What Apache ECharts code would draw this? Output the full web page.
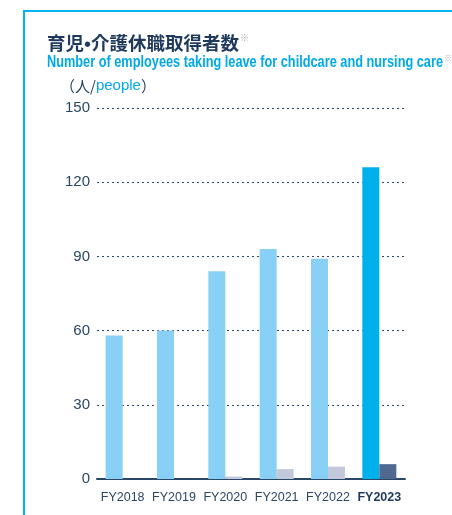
<!DOCTYPE html>
<html>
<head>
<meta charset="utf-8">
<script src="https://cdn.jsdelivr.net/npm/echarts@6/dist/echarts.min.js"></script>
<style>
  html, body { margin: 0; padding: 0; background: #fff; }
  #chart { width: 452px; height: 515px; }
</style>
</head>
<body>
<div id="chart"></div>
<script>
// data
const years = ['FY2018', 'FY2019', 'FY2020', 'FY2021', 'FY2022', 'FY2023'];
const childcare = [58, 60, 84, 93, 89, 126];
const nursing = [0, 0, 1, 4, 5, 6];
const yTicks = [0, 30, 60, 90, 120, 150];

const navy = '#2b4766';
const cyan = '#00a9e8';
const lastIdx = years.length - 1;

const title = '育児•介護休職取得者数';
const titleFont = 'bold 18.5px "Noto Sans CJK JP"';
const subtitle = 'Number of employees taking leave for childcare and nursing care';
const subFont = 'bold 16px "Liberation Sans"';
// the original uses a condensed face, so squeeze the subtitle to its width
const ctx = document.createElement('canvas').getContext('2d');
ctx.font = subFont;
const subScale = 396 / ctx.measureText(subtitle).width;
ctx.font = titleFont;
const titleW = ctx.measureText(title).width;

const chart = echarts.init(document.getElementById('chart'), null, { renderer: 'canvas' });

const option = {
  animation: false,
  textStyle: { fontFamily: 'Liberation Sans' },
  graphic: [
    // frame (left + top line)
    { type: 'rect', left: 23, top: 10, shape: { width: 2, height: 505 }, style: { fill: '#00b4f0' } },
    { type: 'rect', left: 23, top: 10, shape: { width: 429, height: 2 }, style: { fill: '#00b4f0' } },
    {
      type: 'text', x: 47, y: 43,
      style: { text: title, font: titleFont, fill: '#1f3a5c', verticalAlign: 'middle' }
    },
    { type: 'text', x: 47 + titleW + 1, y: 38, style: { text: '※', font: '9px "Noto Sans CJK JP"', fill: '#a3abb8', verticalAlign: 'middle' } },
    {
      type: 'text', x: 47, y: 63, scaleX: subScale,
      style: { text: subtitle, font: subFont, fill: cyan, verticalAlign: 'middle' }
    },
    { type: 'text', x: 444, y: 58, style: { text: '※', font: '8px "Noto Sans CJK JP"', fill: '#a3abb8', verticalAlign: 'middle' } },
    {
      type: 'text', x: 60, y: 86,
      style: {
        text: '{b|（人/}{p|people}{b|）}',
        verticalAlign: 'middle',
        rich: {
          b: { font: '15px "Noto Sans CJK JP"', fill: '#1f3a5c' },
          p: { font: '15px "Liberation Sans"', fill: cyan }
        }
      }
    }
  ],
  grid: { left: 97, right: 47, top: 108, bottom: 36, containLabel: false },
  xAxis: {
    type: 'category',
    data: years,
    axisLine: { lineStyle: { color: navy, width: 2 } },
    axisTick: { show: false },
    axisLabel: {
      interval: 0,
      margin: 12,
      fontSize: 12.5,
      color: navy,
      formatter: (v, i) => i === lastIdx ? '{b|' + v + '}' : v,
      rich: { b: { fontSize: 12.5, fontWeight: 'bold', color: '#1f3a5c' } }
    }
  },
  yAxis: {
    type: 'value',
    min: yTicks[0],
    max: yTicks[yTicks.length - 1],
    interval: 30,
    axisLine: { show: false },
    axisTick: { show: false },
    axisLabel: { fontSize: 15, color: navy, margin: 7 },
    splitLine: { lineStyle: { color: navy, width: 1, type: [2, 3] } }
  },
  series: [
    {
      name: 'childcare',
      type: 'bar',
      barWidth: 17,
      barGap: '0%',
      z: 3,
      data: childcare.map((v, i) => ({ value: v, itemStyle: { color: i === lastIdx ? '#00b0ec' : '#88d0f5' } }))
    },
    {
      name: 'nursing',
      type: 'bar',
      barWidth: 17,
      z: 3,
      data: nursing.map((v, i) => ({ value: v, itemStyle: { color: i === lastIdx ? '#4f6990' : '#c3c9da' } }))
    }
  ]
};

chart.setOption(option);
</script>
</body>
</html>
